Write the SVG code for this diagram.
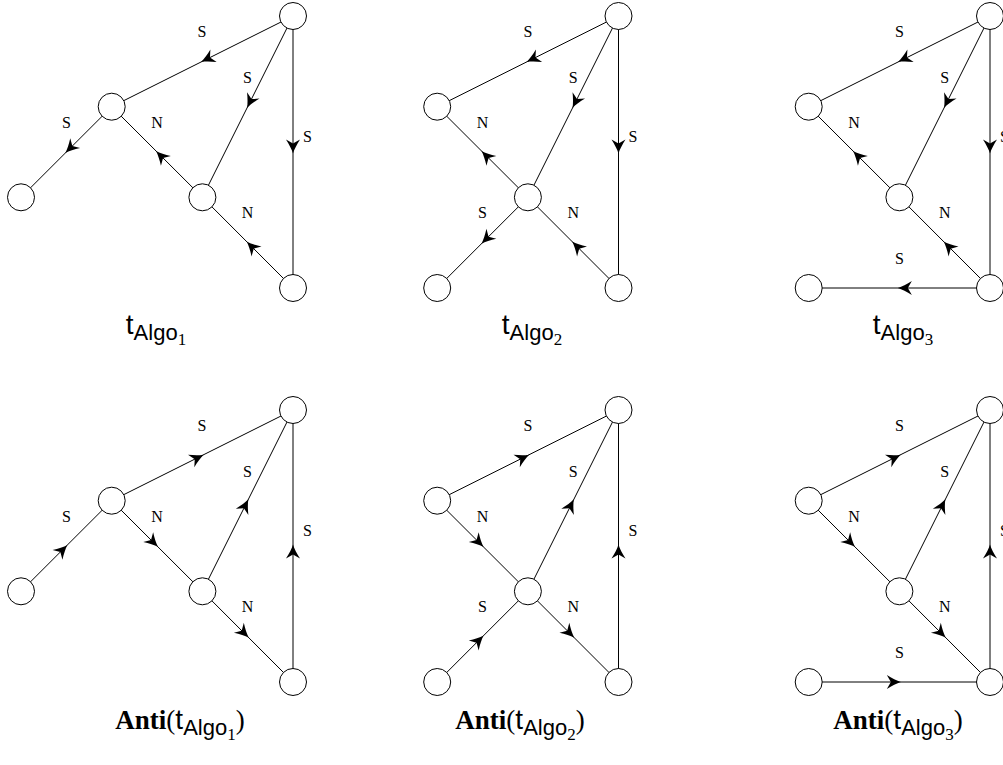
<svg xmlns="http://www.w3.org/2000/svg" width="1003" height="765" viewBox="0 0 1003 765">
  <style>
    .edge { fill: none; stroke: #000; stroke-width: 1; marker-mid: url(#ah); }
    .node { fill: #fff; stroke: #000; stroke-width: 1; }
    .lbl { font-family: "Liberation Serif", "DejaVu Serif", serif; font-size: 16px; fill: #000; text-anchor: middle; }
    .cap { font-family: "Liberation Sans", "DejaVu Sans", sans-serif; font-size: 28px; fill: #000; text-anchor: middle; }
    .sub { font-size: 22px; }
    .num { font-family: "Liberation Serif", "DejaVu Serif", serif; font-size: 17px; }
    .bold { font-family: "Liberation Serif", "DejaVu Serif", serif; font-weight: bold; font-size: 27px; }
    .rm { font-family: "Liberation Serif", "DejaVu Serif", serif; font-size: 27px; }
  </style>
  <defs>
    <marker id="ah" viewBox="-15 -8 18 16" refX="0" refY="0" markerWidth="18" markerHeight="16" markerUnits="userSpaceOnUse" orient="auto">
      <path d="M 1.5 0 C -2.5 1.2 -7.5 3.8 -12.5 7 L -8.5 0 L -12.5 -7 C -7.5 -3.8 -2.5 -1.2 1.5 0 Z" fill="#000"/>
    </marker>
    <circle id="nd" r="13.5" class="node"/>
  </defs>

  <!-- top row: t_Algo graphs -->
  <g id="connectors-top">
    <!-- graph 1 -->
    <path class="edge" d="M 293 16 L 202.35 61.35 L 111.7 106.7"/>
    <path class="edge" d="M 293 16 L 247.7 106.65 L 202.4 197.3"/>
    <path class="edge" d="M 293 16 L 293 152 L 293 288"/>
    <path class="edge" d="M 111.7 106.7 L 66.35 152 L 21 197.3"/>
    <path class="edge" d="M 202.4 197.3 L 157.05 152 L 111.7 106.7"/>
    <path class="edge" d="M 293 288 L 247.7 242.65 L 202.4 197.3"/>
    <!-- graph 2 -->
    <path class="edge" d="M 618.5 16 L 527.85 61.35 L 437.2 106.7"/>
    <path class="edge" d="M 618.5 16 L 573.2 106.65 L 527.9 197.3"/>
    <path class="edge" d="M 618.5 16 L 618.5 152 L 618.5 288"/>
    <path class="edge" d="M 527.9 197.3 L 482.55 152 L 437.2 106.7"/>
    <path class="edge" d="M 527.9 197.3 L 482.55 242.65 L 437.2 288"/>
    <path class="edge" d="M 618.5 288 L 573.2 242.65 L 527.9 197.3"/>
    <!-- graph 3 -->
    <path class="edge" d="M 990 16 L 899.35 61.35 L 808.7 106.7"/>
    <path class="edge" d="M 990 16 L 944.7 106.65 L 899.4 197.3"/>
    <path class="edge" d="M 990 16 L 990 152 L 990 288"/>
    <path class="edge" d="M 899.4 197.3 L 854.05 152 L 808.7 106.7"/>
    <path class="edge" d="M 990 288 L 944.7 242.65 L 899.4 197.3"/>
    <path class="edge" d="M 990 288 L 899.35 288 L 808.7 288"/>
  </g>

  <!-- bottom row: Anti graphs (every edge reversed) -->
  <g id="connectors-bottom">
    <!-- graph 4 -->
    <path class="edge" d="M 111.7 500.7 L 202.35 455.35 L 293 410"/>
    <path class="edge" d="M 202.4 591.3 L 247.7 500.65 L 293 410"/>
    <path class="edge" d="M 293 682 L 293 546 L 293 410"/>
    <path class="edge" d="M 21 591.3 L 66.35 546 L 111.7 500.7"/>
    <path class="edge" d="M 111.7 500.7 L 157.05 546 L 202.4 591.3"/>
    <path class="edge" d="M 202.4 591.3 L 247.7 636.65 L 293 682"/>
    <!-- graph 5 -->
    <path class="edge" d="M 437.2 500.7 L 527.85 455.35 L 618.5 410"/>
    <path class="edge" d="M 527.9 591.3 L 573.2 500.65 L 618.5 410"/>
    <path class="edge" d="M 618.5 682 L 618.5 546 L 618.5 410"/>
    <path class="edge" d="M 437.2 500.7 L 482.55 546 L 527.9 591.3"/>
    <path class="edge" d="M 437.2 682 L 482.55 636.65 L 527.9 591.3"/>
    <path class="edge" d="M 527.9 591.3 L 573.2 636.65 L 618.5 682"/>
    <!-- graph 6 -->
    <path class="edge" d="M 808.7 500.7 L 899.35 455.35 L 990 410"/>
    <path class="edge" d="M 899.4 591.3 L 944.7 500.65 L 990 410"/>
    <path class="edge" d="M 990 682 L 990 546 L 990 410"/>
    <path class="edge" d="M 808.7 500.7 L 854.05 546 L 899.4 591.3"/>
    <path class="edge" d="M 899.4 591.3 L 944.7 636.65 L 990 682"/>
    <path class="edge" d="M 808.7 682 L 899.35 682 L 990 682"/>
  </g>

  <!-- edge labels -->
  <g id="labels">
    <text class="lbl" x="202" y="37">S</text>
    <text class="lbl" x="247.5" y="83">S</text>
    <text class="lbl" x="307.5" y="142">S</text>
    <text class="lbl" x="66.5" y="128">S</text>
    <text class="lbl" x="157" y="128">N</text>
    <text class="lbl" x="247.5" y="218">N</text>

    <text class="lbl" x="527.9" y="37">S</text>
    <text class="lbl" x="573.2" y="83">S</text>
    <text class="lbl" x="633" y="142">S</text>
    <text class="lbl" x="482.5" y="128">N</text>
    <text class="lbl" x="482.5" y="218">S</text>
    <text class="lbl" x="573.2" y="218">N</text>

    <text class="lbl" x="899.4" y="37">S</text>
    <text class="lbl" x="944.7" y="83">S</text>
    <text class="lbl" x="1004.5" y="142">S</text>
    <text class="lbl" x="854" y="128">N</text>
    <text class="lbl" x="944.7" y="218">N</text>
    <text class="lbl" x="899.4" y="263.5">S</text>

    <text class="lbl" x="202" y="431">S</text>
    <text class="lbl" x="247.5" y="477">S</text>
    <text class="lbl" x="307.5" y="536">S</text>
    <text class="lbl" x="66.5" y="522">S</text>
    <text class="lbl" x="157" y="522">N</text>
    <text class="lbl" x="247.5" y="612">N</text>

    <text class="lbl" x="527.9" y="431">S</text>
    <text class="lbl" x="573.2" y="477">S</text>
    <text class="lbl" x="633" y="536">S</text>
    <text class="lbl" x="482.5" y="522">N</text>
    <text class="lbl" x="482.5" y="612">S</text>
    <text class="lbl" x="573.2" y="612">N</text>

    <text class="lbl" x="899.4" y="431">S</text>
    <text class="lbl" x="944.7" y="477">S</text>
    <text class="lbl" x="1004.5" y="536">S</text>
    <text class="lbl" x="854" y="522">N</text>
    <text class="lbl" x="944.7" y="612">N</text>
    <text class="lbl" x="899.4" y="657.5">S</text>
  </g>

  <!-- nodes -->
  <g id="g1-nodes">
    <use id="g1-t" href="#nd" x="293" y="16"/>
    <use id="g1-a" href="#nd" x="111.7" y="106.7"/>
    <use id="g1-l" href="#nd" x="21" y="197.3"/>
    <use id="g1-m" href="#nd" x="202.4" y="197.3"/>
    <use id="g1-b" href="#nd" x="293" y="288"/>
  </g>
  <g id="g2-nodes">
    <use id="g2-t" href="#nd" x="618.5" y="16"/>
    <use id="g2-a" href="#nd" x="437.2" y="106.7"/>
    <use id="g2-x" href="#nd" x="527.9" y="197.3"/>
    <use id="g2-l" href="#nd" x="437.2" y="288"/>
    <use id="g2-b" href="#nd" x="618.5" y="288"/>
  </g>
  <g id="g3-nodes">
    <use id="g3-t" href="#nd" x="990" y="16"/>
    <use id="g3-a" href="#nd" x="808.7" y="106.7"/>
    <use id="g3-m" href="#nd" x="899.4" y="197.3"/>
    <use id="g3-l" href="#nd" x="808.7" y="288"/>
    <use id="g3-b" href="#nd" x="990" y="288"/>
  </g>
  <g id="g4-nodes">
    <use id="g4-t" href="#nd" x="293" y="410"/>
    <use id="g4-a" href="#nd" x="111.7" y="500.7"/>
    <use id="g4-l" href="#nd" x="21" y="591.3"/>
    <use id="g4-m" href="#nd" x="202.4" y="591.3"/>
    <use id="g4-b" href="#nd" x="293" y="682"/>
  </g>
  <g id="g5-nodes">
    <use id="g5-t" href="#nd" x="618.5" y="410"/>
    <use id="g5-a" href="#nd" x="437.2" y="500.7"/>
    <use id="g5-x" href="#nd" x="527.9" y="591.3"/>
    <use id="g5-l" href="#nd" x="437.2" y="682"/>
    <use id="g5-b" href="#nd" x="618.5" y="682"/>
  </g>
  <g id="g6-nodes">
    <use id="g6-t" href="#nd" x="990" y="410"/>
    <use id="g6-a" href="#nd" x="808.7" y="500.7"/>
    <use id="g6-m" href="#nd" x="899.4" y="591.3"/>
    <use id="g6-l" href="#nd" x="808.7" y="682"/>
    <use id="g6-b" href="#nd" x="990" y="682"/>
  </g>

  <!-- captions -->
  <g id="captions">
    <text class="cap" x="156" y="334">t<tspan class="sub" dy="6">Algo</tspan><tspan class="num" dy="5">1</tspan></text>
    <text class="cap" x="532" y="334">t<tspan class="sub" dy="6">Algo</tspan><tspan class="num" dy="5">2</tspan></text>
    <text class="cap" x="903" y="334">t<tspan class="sub" dy="6">Algo</tspan><tspan class="num" dy="5">3</tspan></text>
    <text class="cap" x="180" y="729"><tspan class="bold">Anti</tspan><tspan class="rm">(</tspan>t<tspan class="sub" dy="6">Algo</tspan><tspan class="num" dy="5">1</tspan><tspan class="rm" dy="-11">)</tspan></text>
    <text class="cap" x="520" y="729"><tspan class="bold">Anti</tspan><tspan class="rm">(</tspan>t<tspan class="sub" dy="6">Algo</tspan><tspan class="num" dy="5">2</tspan><tspan class="rm" dy="-11">)</tspan></text>
    <text class="cap" x="898" y="729"><tspan class="bold">Anti</tspan><tspan class="rm">(</tspan>t<tspan class="sub" dy="6">Algo</tspan><tspan class="num" dy="5">3</tspan><tspan class="rm" dy="-11">)</tspan></text>
  </g>
</svg>
